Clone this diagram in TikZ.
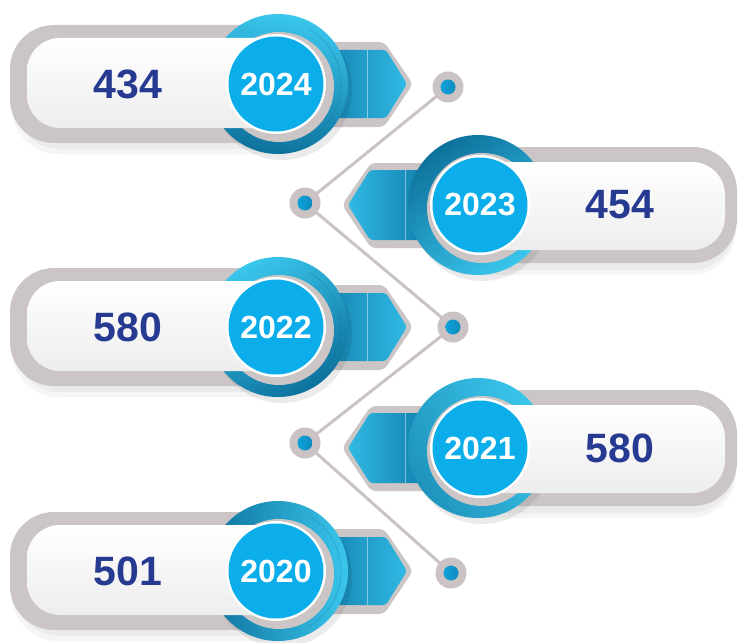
\documentclass[tikz,border=0pt]{standalone}
\usepackage{fontspec}
\setmainfont{Liberation Sans}
\definecolor{pillgray}{HTML}{CCC5C5}
\definecolor{pillwhite}{HTML}{EEEDEE}
\definecolor{discblue}{HTML}{0BAEEA}
\definecolor{ringlight}{HTML}{3AC6EC}
\definecolor{ringdark}{HTML}{0D729D}
\definecolor{txtblue}{HTML}{273A91}
\definecolor{linegray}{HTML}{CBC3C3}
\definecolor{tabdark}{HTML}{137FAE}
\definecolor{tablight}{HTML}{30BAE4}
\tikzset{
  yeartxt/.style={text=white,font=\fontsize{32}{34}\selectfont\bfseries,inner sep=0pt},
  valtxt/.style={text=txtblue,font=\fontsize{41}{44}\selectfont\bfseries,inner sep=0pt},
  dotnode/.style={circle,fill=linegray,minimum size=31pt,inner sep=0pt,
    path picture={\shade[left color=discblue,right color=tabdark] (path picture bounding box.center) circle (7.5pt);}},
  conn/.style={linegray,line width=3pt}
}
% #1 name, #2 cy, #3 year, #4 value, #5 ring shading angle, #6 ring dark colour
\newcommand\LeftRow[6]{%
\begin{scope}[shift={(0,#2)}]
  \fill[black,opacity=0.04,rounded corners=46] (12,-52) rectangle (318,70);
  \fill[black,opacity=0.04,rounded corners=46] (14,-54) rectangle (316,65);
  \fill[pillgray,rounded corners=44] (10,-59) rectangle (312,59);
  \fill[pillgray,rounded corners=5] (300,-42) -- (384,-42) -- (413,0) -- (384,43) -- (300,43) -- cycle;
  \shade[left color=tabdark,right color=tablight,rounded corners=3] (320,-34) -- (386,-34) -- (407,0) -- (386,34) -- (320,34) -- cycle;
  \draw[white,opacity=0.45,line width=0.8pt] (367,-34) -- (367,34);
  \fill[black,opacity=0.08] (282,6) circle (70);
  \shade[top color=ringlight,bottom color=#6,shading angle=#5] (278,0) circle (70);
  \draw[ringdark,opacity=0.35,line width=0.6pt] (278,0) ++(-60:63) arc (-60:60:63);
  \fill[pillgray] (279,3) circle (55);
  \shade[top color=white,bottom color=pillwhite,rounded corners=33] (27,-46) rectangle (290,44);
  \fill[white] (276,0) circle (50);
  \fill[discblue] (276,0) circle (47.5);
  \node[yeartxt] (#1y) at (276,0) {#3};
  \node[valtxt] (#1v) at (128,0) {#4};
\end{scope}}
\newcommand\RightRow[6]{%
\begin{scope}[shift={(0,#2)}]
  \fill[black,opacity=0.04,rounded corners=46] (424,-52) rectangle (736,70);
  \fill[black,opacity=0.04,rounded corners=46] (426,-54) rectangle (736,65);
  \fill[pillgray,rounded corners=44] (420,-58) rectangle (737,58);
  \fill[pillgray,rounded corners=5] (432,-42) -- (371,-42) -- (342,0) -- (371,43) -- (432,43) -- cycle;
  \shade[left color=tablight,right color=tabdark,rounded corners=3] (425,-35) -- (370,-35) -- (348,0) -- (370,35) -- (425,35) -- cycle;
  \draw[white,opacity=0.45,line width=0.8pt] (405,-35) -- (405,35);
  \fill[black,opacity=0.08] (482,6) circle (70);
  \shade[top color=ringlight,bottom color=#6,shading angle=#5] (478,0) circle (70);
  \fill[pillgray] (482,3) circle (55);
  \shade[top color=white,bottom color=pillwhite,rounded corners=33] (466,-43) rectangle (725,45);
  \fill[white] (480,0) circle (50);
  \fill[discblue] (480,0) circle (47.5);
  \node[yeartxt] (#1y) at (480,0) {#3};
  \node[valtxt] (#1v) at (620,0) {#4};
\end{scope}}
\begin{document}
\begin{tikzpicture}[x=1pt,y=-1pt]
\useasboundingbox (0,0) rectangle (738,642);
\fill[white] (0,0) rectangle (738,642);
\coordinate (d1) at (448,87);
\coordinate (d2) at (305,203);
\coordinate (d3) at (453,327);
\coordinate (d4) at (305,443);
\coordinate (d5) at (451,573);
\draw[conn] (d1) -- (d2) -- (d3) -- (d4) -- (d5);
\LeftRow{a}{84}{2024}{434}{-10}{ringdark}
\RightRow{b}{205}{2023}{454}{215}{ringdark}
\LeftRow{c}{327}{2022}{580}{30}{ringdark}
\RightRow{d}{448}{2021}{580}{-60}{ringdark!60!ringlight}
\LeftRow{e}{571}{2020}{501}{270}{ringdark}
\node[dotnode] (n1) at (d1) {};
\node[dotnode] (n2) at (d2) {};
\node[dotnode] (n3) at (d3) {};
\node[dotnode] (n4) at (d4) {};
\node[dotnode] (n5) at (d5) {};
\end{tikzpicture}
\end{document}
